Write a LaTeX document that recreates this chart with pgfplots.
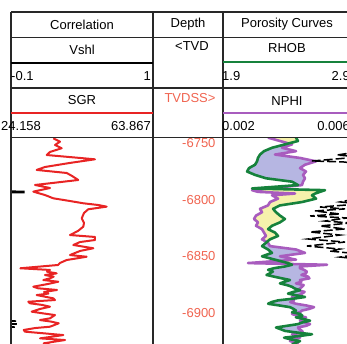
\documentclass[border=0pt]{standalone}
\usepackage{fontspec}
\setmainfont{Liberation Sans}
\usepackage{pgfplots}
\usepackage{pgfplotstable}
\pgfplotsset{compat=1.18}

\definecolor{grred}{RGB}{232,36,36}
\definecolor{rhobgreen}{RGB}{22,130,60}
\definecolor{nphipurple}{RGB}{168,92,190}
\definecolor{gasfill}{RGB}{182,182,226}
\definecolor{shalefill}{RGB}{246,242,172}
\definecolor{depthred}{RGB}{240,100,80}
\definecolor{frame}{RGB}{40,40,40}

% Gamma ray (SGR) versus TVDSS
\pgfplotstableread{
depth gr
-6745.6 35.99
-6748.6 37.86
-6751.5 36.46
-6754.4 38.33
-6757.7 35.06
-6760.4 34.14
-6763.0 43.45
-6764.2 47.64
-6767.4 40.65
-6771.0 33.66
-6773.6 31.34
-6776.3 39.73
-6778.9 41.21
-6782.5 42.97
-6785.4 35.06
-6786.9 30.87
-6789.6 35.06
-6792.8 30.39
-6795.8 33.66
-6798.7 35.99
-6801.1 40.65
-6803.1 44.37
-6804.6 48.48
-6806.1 50.92
-6808.4 45.77
-6811.7 44.57
-6816.4 43.93
-6820.5 44.57
-6823.8 44.37
-6827.6 42.89
-6831.2 40.65
-6832.9 47.64
-6835.6 47.64
-6837.4 43.45
-6840.0 41.58
-6842.9 47.17
-6845.3 43.45
-6848.9 40.65
-6850.4 45.32
-6853.3 39.73
-6855.9 37.86
-6857.7 37.30
-6860.6 26.76
-6862.1 35.06
-6863.6 34.22
-6865.1 36.94
-6866.6 33.66
-6868.0 36.10
-6869.5 35.06
-6871.0 33.20
-6872.5 37.38
-6874.5 34.50
-6876.9 30.39
-6878.3 31.71
-6879.8 37.02
-6881.6 33.39
-6883.0 34.60
-6884.3 31.34
-6887.2 35.99
-6888.7 36.46
-6890.2 29.00
-6891.6 29.47
-6893.0 32.80
-6894.6 35.06
-6896.6 32.27
-6899.0 29.95
-6900.5 33.10
-6902.0 36.46
-6904.9 35.06
-6906.4 32.27
-6907.8 35.40
-6909.3 37.50
-6912.3 35.06
-6913.5 30.87
-6915.2 27.71
-6916.7 28.07
-6918.2 33.50
-6919.7 38.78
-6921.4 35.06
-6922.6 32.27
-6924.1 39.26
-6927.0 33.30
-6928.5 35.06
}\grtable

% Shale volume: mostly below the track minimum
\pgfplotstableread{
depth vshl
-6791.0 -0.3
-6792.3 -0.3
-6792.5 0.0
-6793.7 0.0
-6793.9 -0.3
-6906.0 -0.3
-6907.3 -0.06
-6908.6 -0.3
-6909.9 -0.055
-6911.3 -0.3
-6912.6 -0.07
-6913.5 -0.3
}\vshltable

% Bulk density and neutron porosity
\pgfplotstableread{
depth rhob nphi
-6745 2.470 0.003406
-6748 2.486 0.003781
-6751 2.384 0.004156
-6754 2.283 0.003844
-6757 2.220 0.004281
-6760 2.189 0.003625
-6763 2.173 0.004406
-6766 2.166 0.004906
-6769 2.150 0.004563
-6772 2.103 0.004406
-6775 2.088 0.004594
-6778 2.150 0.004500
-6781 2.236 0.004563
-6784 2.439 0.004500
-6787 2.486 0.004469
-6790 2.127 0.003406
-6791.5 2.697 0.002906
-6793 2.658 0.003094
-6794.5 2.619 0.004250
-6796 2.595 0.003531
-6799 2.627 0.003719
-6802 2.517 0.003469
-6805 2.345 0.003406
-6808 2.291 0.003156
-6811 2.314 0.003219
-6814 2.345 0.003031
-6817 2.384 0.002969
-6820 2.345 0.003094
-6823 2.283 0.003031
-6826 2.252 0.003219
-6829 2.306 0.003281
-6832 2.330 0.003344
-6835 2.267 0.003219
-6838 2.236 0.003406
-6841 2.205 0.003469
-6844 2.252 0.004281
-6847 2.283 0.004563
-6850 2.205 0.003781
-6853 2.306 0.004281
-6856 2.408 0.002781
-6857.5 2.439 0.005250
-6859 2.384 0.004406
-6860.5 2.300 0.004400
-6862 2.252 0.004531
-6863.5 2.290 0.004620
-6865 2.267 0.004594
-6866.5 2.240 0.004450
-6868 2.298 0.004656
-6869.5 2.360 0.004700
-6871 2.423 0.004406
-6872.5 2.380 0.004450
-6874 2.345 0.004281
-6875.5 2.400 0.004520
-6877 2.439 0.004469
-6878.5 2.460 0.004400
-6880 2.502 0.004344
-6881.5 2.450 0.004550
-6883 2.408 0.004469
-6884.5 2.470 0.004350
-6886 2.541 0.004156
-6887.5 2.450 0.004180
-6889 2.330 0.004219
-6890.5 2.280 0.004100
-6892 2.252 0.004281
-6893.5 2.340 0.004600
-6895 2.423 0.004844
-6896.5 2.450 0.004700
-6898 2.470 0.004469
-6899.5 2.440 0.004400
-6901 2.502 0.004156
-6902.5 2.520 0.004300
-6904 2.470 0.004594
-6905.5 2.530 0.004480
-6907 2.580 0.004406
-6908.5 2.520 0.004550
-6910 2.486 0.004719
-6911.5 2.400 0.004600
-6913 2.314 0.004344
-6914.5 2.350 0.004380
-6916 2.384 0.004469
-6917.5 2.480 0.004500
-6919 2.595 0.004156
-6920.5 2.500 0.004250
-6922 2.377 0.004406
-6923.5 2.430 0.004200
-6925 2.502 0.004094
-6926.5 2.470 0.004300
-6928 2.439 0.004344
}\portable

% Auxiliary curve, mostly beyond the right edge of the porosity track
\pgfplotstableread{
depth val
-6745 3.05
-6755.9 3.048
-6760.4 2.791
-6762.1 2.970
-6765.7 2.595
-6766.5 2.8375
-6769.2 3.048
-6798.4 2.970
-6801.9 2.814
-6803.7 2.970
-6806.4 2.658
-6808.1 2.853
-6809.9 2.619
-6812.6 2.814
-6814.3 2.580
-6816.1 2.869
-6818.8 2.697
-6820.5 2.892
-6823.2 2.658
-6825.8 2.853
-6828.5 2.580
-6831.2 2.814
-6834.7 2.564
-6837.4 2.853
-6840.9 2.556
-6843.6 2.814
-6845.4 2.736
-6848.0 2.970
-6850.7 2.814
-6853.4 3.048
-6930 3.05
}\auxtable

\pgfplotsset{
  logtrack/.style={scale only axis, height=206.5pt,
    ymin=-6927.6, ymax=-6744.9, anchor=south west, clip=true},
}
% NPHI drawn on the RHOB scale of the porosity track
\newcommand{\nphix}{1.9+(\thisrow{nphi}-0.002)*250}
% Close a depth curve against the left side of the track
\newcommand{\toleft}{-- (axis cs:1.5,-6928) -- (axis cs:1.5,-6745) -- cycle}

\begin{document}
\begin{tikzpicture}[font=\fontsize{13}{15}\selectfont]
\path[use as bounding box] (0pt,0pt) rectangle (347pt,344pt);
\clip (0pt,0pt) rectangle (347pt,344pt);

% Correlation track: SGR
\begin{axis}[logtrack, at={(11pt,0pt)}, width=142pt,
  xmin=24.158, xmax=63.867, hide axis]
\addplot[grred, line width=2pt, line join=round] table[x=gr, y=depth] {\grtable};
\end{axis}
% Correlation track: Vshl
\begin{axis}[logtrack, at={(11pt,0pt)}, width=142pt,
  xmin=-0.1, xmax=1, hide axis]
\addplot[black, line width=1.5pt] table[x=vshl, y=depth] {\vshltable};
\end{axis}

% Depth track
\begin{axis}[logtrack, at={(153pt,0pt)}, width=70pt,
  xmin=0, xmax=1, axis line style={draw=none}, xtick=\empty,
  ytick={-6900,-6850,-6800,-6750},
  yticklabels={-6900,-6850,-6800,-6750},
  major tick length=0pt,
  yticklabel style={anchor=east, xshift=66pt, text=depthred,
    font=\fontsize{13}{15}\selectfont}]
\addplot[draw=none] coordinates {(0,-6750) (1,-6900)};
\end{axis}

% Porosity track: yellow where NPHI lies left of RHOB, lavender where right
\begin{axis}[logtrack, at={(223pt,0pt)}, width=128pt,
  xmin=1.9, xmax=2.9, hide axis]
\addplot[fill=shalefill, draw=none]
  table[x expr={max(\thisrow{rhob},\nphix)}, y=depth] {\portable} \toleft;
\addplot[fill=gasfill, draw=none]
  table[x expr=\nphix, y=depth] {\portable} \toleft;
\addplot[fill=white, draw=none]
  table[x expr={min(\thisrow{rhob},\nphix)}, y=depth] {\portable} \toleft;
\addplot[nphipurple, line width=2.6pt, line join=round]
  table[x expr=\nphix, y=depth] {\portable};
\addplot[rhobgreen, line width=2.6pt, line join=round]
  table[x=rhob, y=depth] {\portable};
\addplot[black, line width=1.5pt, dash pattern=on 9pt off 3pt]
  table[x=val, y=depth] {\auxtable};
\end{axis}

% Header grid
\begin{scope}[frame, line width=1.2pt]
\draw (11pt,332pt) -- (347pt,332pt);
\draw (11pt,306.5pt) -- (347pt,306.5pt);
\draw (11pt,256pt) -- (347pt,256pt);
\draw (11pt,206.5pt) -- (347pt,206.5pt);
\draw (11pt,332pt) -- (11pt,0pt);
\draw (153pt,332pt) -- (153pt,0pt);
\draw (223pt,332pt) -- (223pt,0pt);
\draw[black, line width=1.6pt] (11pt,281pt) -- (153pt,281pt);
\end{scope}
\draw[rhobgreen, line width=1.8pt] (223pt,282pt) -- (347pt,282pt);
\draw[grred, line width=1.6pt] (11pt,231pt) -- (153pt,231pt);
\draw[nphipurple, line width=1.6pt] (223pt,231pt) -- (347pt,231pt);

% Header text
\begin{scope}[text=black]
\node at (82pt,319.5pt) {Correlation};
\node at (82pt,294pt) {Vshl};
\node[anchor=west, inner sep=0pt] at (11pt,268pt) {-0.1};
\node[anchor=east, inner sep=0pt] at (151pt,268pt) {1};
\node at (82pt,243.5pt) {SGR};
\node[anchor=west, inner sep=0pt] at (1pt,218pt) {24.158};
\node[anchor=east, inner sep=0pt] at (151pt,218pt) {63.867};
\node at (188pt,319.5pt) {Depth};
\node at (192pt,297.5pt) {<TVD};
\node at (287pt,319.5pt) {Porosity Curves};
\node at (287pt,295.5pt) {RHOB};
\node[anchor=west, inner sep=0pt] at (222pt,268pt) {1.9};
\node[anchor=east, inner sep=0pt] at (350pt,268pt) {2.9};
\node at (287pt,243pt) {NPHI};
\node[anchor=west, inner sep=0pt] at (222pt,218pt) {0.002};
\node[anchor=east, inner sep=0pt] at (350pt,218pt) {0.006};
\end{scope}
\node[text=depthred] at (190pt,246pt) {TVDSS>};
\end{tikzpicture}
\end{document}
